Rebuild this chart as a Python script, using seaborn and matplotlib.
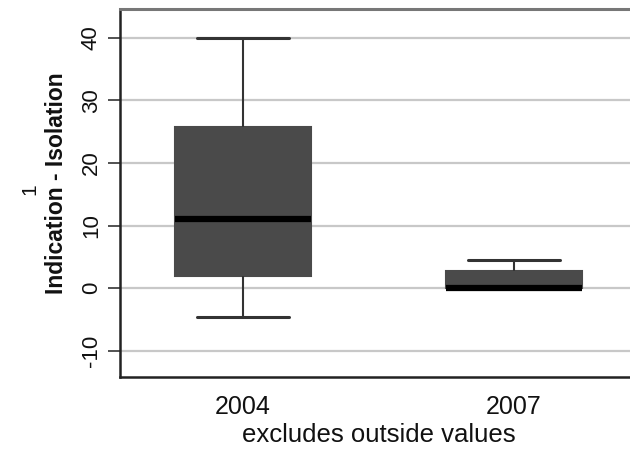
import seaborn as sns
import matplotlib.pyplot as plt
import pandas as pd

# values (five-number summary of each group)
years = ["2004", "2007"]
vals_2004 = [-4.6, 2.0, 11.0, 25.7, 40.0]
vals_2007 = [0.0, 0.0, 0.0, 2.7, 4.5]
y_ticks = [-10, 0, 10, 20, 30, 40]

df = pd.DataFrame({
    "year": [years[0]] * len(vals_2004) + [years[1]] * len(vals_2007),
    "value": vals_2004 + vals_2007,
})

sns.set_style("white")
plt.rcParams['font.family'] = ['Liberation Sans', 'DejaVu Sans']

fig = plt.figure(figsize=(6.3, 4.53), dpi=100)
# right edge of the plot area runs off the picture, as in the original
ax = fig.add_axes([120 / 630, 1 - 377 / 453, 517 / 630, 368 / 453])

for y in y_ticks:
    ax.axhline(y, color="#c8c8c8", lw=1.6, zorder=0)

sns.boxplot(data=df, x="year", y="value", order=years, ax=ax, width=0.5,
            whis=1.5, showfliers=False, color="#4a4a4a", saturation=1,
            linewidth=1.5, linecolor="#333333",
            boxprops=dict(facecolor="#4a4a4a", edgecolor="#4a4a4a"),
            medianprops=dict(color="black", linewidth=4.5),
            whiskerprops=dict(color="#333333", linewidth=1.5),
            capprops=dict(color="#333333", linewidth=2.2),
            capwidths=0.34)

ax.set_xlim(-0.454, 1.454)
ax.set_ylim(-14.2, 44.6)
ax.set_yticks(y_ticks)
ax.set_yticklabels([str(t) for t in y_ticks], rotation=90, va="center", fontsize=16)
ax.tick_params(axis="y", direction="out", length=9, width=1.2, color="#333333", left=True, pad=4)
ax.tick_params(axis="x", length=0, labelsize=18, pad=13)
for lab in ax.get_yticklabels() + ax.get_xticklabels():
    lab.set_color("#111111")

ax.set_ylabel("Indication - Isolation", fontsize=16.5, fontweight="bold", color="#111111")
ax.yaxis.set_label_coords(-0.1, 0.527)
fig.text(30 / 630, 1 - 189 / 453, "1", rotation=90, fontsize=15,
         ha="center", va="center", color="#111111")
ax.set_xlabel("excludes outside values", fontsize=18.5, labelpad=3, color="#111111")

for s in ["left", "bottom"]:
    ax.spines[s].set_color("#222222")
    ax.spines[s].set_linewidth(1.8)
ax.spines["top"].set_color("#777777")
ax.spines["top"].set_linewidth(2.2)
ax.spines["right"].set_visible(False)

fig.savefig("out.png", dpi=100)
